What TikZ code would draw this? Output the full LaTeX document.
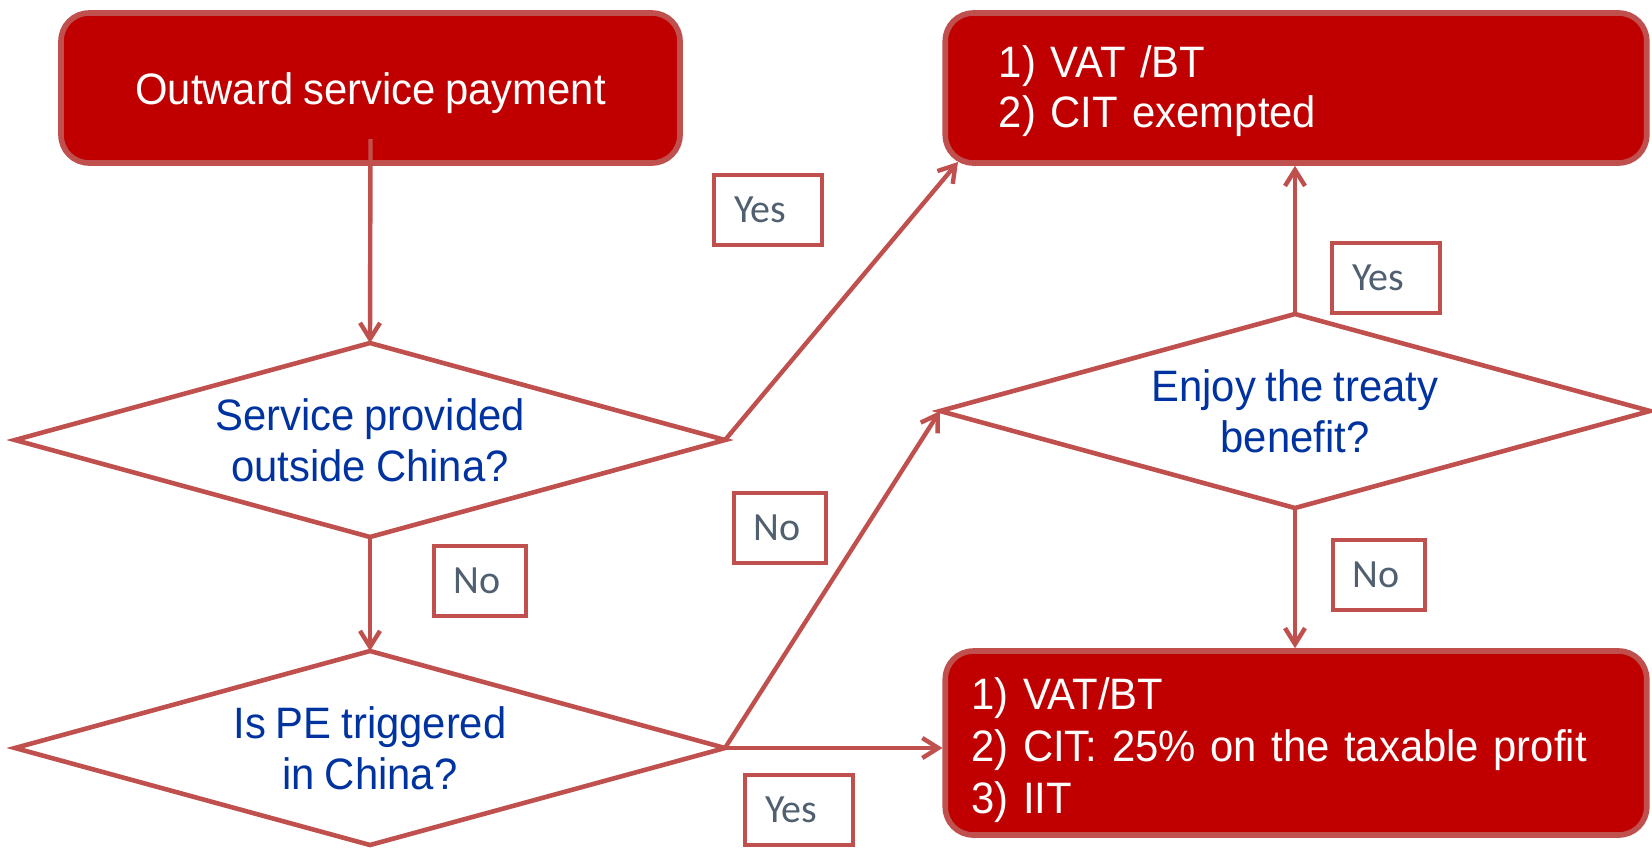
\documentclass[tikz,border=0pt]{standalone}
\usepackage{fontspec}
\setmainfont{Liberation Sans}[FakeStretch=0.95, WordSpace=0.85]
\newfontfamily\labelfont{Carlito}
\usetikzlibrary{shapes.geometric,arrows.meta,calc}
\definecolor{boxfill}{RGB}{192,0,0}
\definecolor{edge}{RGB}{192,80,77}
\definecolor{qblue}{RGB}{0,51,160}
\definecolor{tagtext}{RGB}{80,96,112}

\begin{document}
\begin{tikzpicture}[x=0.5pt,y=-0.5pt,
  taxbox/.style={draw=edge, fill=boxfill, line width=2.8pt, rounded corners=14pt,
    text=white, inner sep=0pt, font=\fontsize{22}{25}\selectfont},
  question/.style={diamond, aspect=3.6, draw=edge, line width=2.3pt, fill=white,
    minimum width=355pt, minimum height=97pt, inner sep=0pt, outer sep=0pt,
    text=qblue, align=center, font=\fontsize{22}{25.3}\selectfont},
  tag/.style={draw=edge, line width=2pt, fill=white, minimum height=35pt,
    inner ysep=0pt, inner xsep=10pt, align=left, text=tagtext,
    font=\labelfont\fontsize{20}{24}\selectfont},
  yestag/.style={tag, minimum width=54pt, text width=34pt},
  notag/.style={tag, minimum width=46pt, text width=26pt},
  flow/.style={draw=edge, line width=2.2pt, -{Straight Barb[length=8pt,width=10pt]}}
]
\useasboundingbox (0,0) rectangle (1652,847);
\clip (0,0) rectangle (1652,847);

% outcome boxes (the struts set where the text sits inside each box)
\node[taxbox, minimum width=309.5pt, minimum height=75pt, align=center]
  (start) at (370.5,88) {\rule{0pt}{21.5pt}Outward service payment};
\node[taxbox, minimum width=350.75pt, minimum height=75pt, inner xsep=26.75pt,
  text width=297.25pt, align=left]
  (exempt) at (1296,88) {\rule{0pt}{19.5pt}1) VAT /BT\\2) CIT exempted};
\node[taxbox, minimum width=350.75pt, minimum height=92pt, inner xsep=13pt,
  text width=324.75pt, align=left, font=\fontsize{22}{25.8}\selectfont]
  (taxed) at (1296,743) {\rule{0pt}{23pt}1) VAT/BT\\2) CIT: 25\% on the taxable profit\\3) IIT};

% decisions
\node[question] (q1) at (370,440) {Service provided\\outside China?};
\node[question] (q2) at (370,748) {Is PE triggered\\in China?};
\node[question] (q3) at (1295,411) {Enjoy the treaty\\benefit?};

% branch tags
\node[yestag] (yes1) at (768,210) {Yes};
\node[yestag] (yes2) at (1386,278) {Yes};
\node[notag] (no1) at (479.5,580.5) {No};
\node[notag] (no2) at (779.5,528) {No};
\node[notag] (no3) at (1378.5,575) {No};
\node[yestag] (yes3) at (799,810) {Yes};

% connectors
\coordinate (s0) at (370.5,139);
\coordinate (b2tip) at (958,162);
\draw[flow] (s0) -- (q1.north);
\draw[flow] (q1.east) -- (b2tip);
\draw[flow] (q1.south) -- (q2.north);
\draw[flow] (q2.east) -- (q3.west);
\draw[flow] (q2.east) -- (q2.east -| taxed.west);
\draw[flow] (q3.north) -- (q3.north |- exempt.south);
\draw[flow] (q3.south) -- (q3.south |- taxed.north);
\end{tikzpicture}
\end{document}
